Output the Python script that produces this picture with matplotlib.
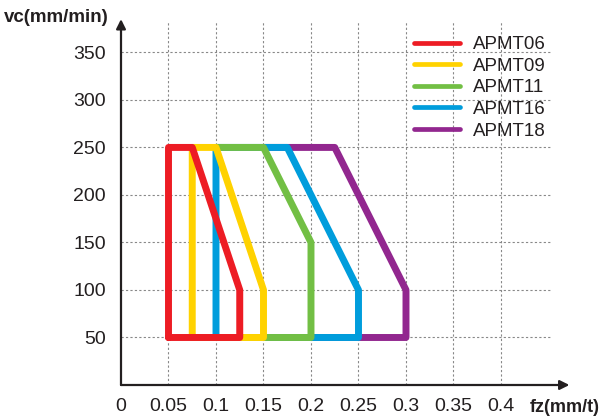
import matplotlib
matplotlib.use("Agg")
import matplotlib.pyplot as plt

plt.rcParams['font.family'] = ['Liberation Sans', 'DejaVu Sans']

# feed per tooth (mm/t) and cutting speed (m/min) outlines for each insert
names = ["APMT06", "APMT09", "APMT11", "APMT16", "APMT18"]
colors = ["#ED1C24", "#FFD200", "#72BF44", "#009DDC", "#92278F"]

fz_06 = [0.05, 0.05, 0.075, 0.125, 0.125, 0.05]
vc_06 = [50, 250, 250, 100, 50, 50]
fz_09 = [0.075, 0.075, 0.1, 0.15, 0.15, 0.075]
vc_09 = [50, 250, 250, 100, 50, 50]
fz_11 = [0.1, 0.15, 0.2, 0.2, 0.1]
vc_11 = [250, 250, 150, 50, 50]
fz_16 = [0.1, 0.1, 0.175, 0.25, 0.25, 0.1]
vc_16 = [50, 250, 250, 100, 50, 50]
fz_18 = [0.15, 0.225, 0.3, 0.3, 0.15]
vc_18 = [250, 250, 100, 50, 50]

x_ticks = [0.05, 0.1, 0.15, 0.2, 0.25, 0.3, 0.35, 0.4]
x_labels = ["0.05", "0.1", "0.15", "0.2", "0.25", "0.3", "0.35", "0.4"]
y_ticks = [50, 100, 150, 200, 250, 300, 350]

shapes = [(fz_06, vc_06), (fz_09, vc_09), (fz_11, vc_11), (fz_16, vc_16), (fz_18, vc_18)]

fig = plt.figure(figsize=(6.04, 4.19), dpi=100)
ax = fig.add_axes([121 / 604, 34 / 419, 431 / 604, 363 / 419])
ax.set_xlim(0, 0.4537)
ax.set_ylim(0, 382)

# draw back to front so red ends up on top
for i in reversed(range(len(shapes))):
    fz, vc = shapes[i]
    ax.plot(fz, vc, color=colors[i], lw=5, solid_joinstyle='round',
            solid_capstyle='round', zorder=3 + (len(shapes) - i))

handles = [plt.Line2D([], [], color=c, lw=3.4, solid_capstyle='round') for c in colors]
fig.legend(handles, names, loc='upper left', bbox_to_anchor=(414 / 604, 1 - 36 / 419),
           frameon=False, fontsize=13.5, handlelength=2.45, handletextpad=0.7,
           labelspacing=0.24, borderpad=0, borderaxespad=0, labelcolor='#231f20')

ax.set_xticks(x_ticks)
ax.set_xticklabels(x_labels)
ax.set_yticks(y_ticks)
ax.tick_params(length=0, labelsize=14, colors='#231f20')
ax.tick_params(axis='x', pad=9)
ax.tick_params(axis='y', pad=11)
ax.grid(True, ls=(0, (2, 2)), color='#888888', lw=0.8)

for s in ['top', 'right', 'left', 'bottom']:
    ax.spines[s].set_visible(False)

# axes with arrow heads
ax.annotate('', xy=(0.472, 0), xytext=(0, 0), xycoords='data',
            arrowprops=dict(arrowstyle='-|>', color='#231f20', lw=1.6,
                            mutation_scale=14, shrinkA=0, shrinkB=0),
            annotation_clip=False)
ax.annotate('', xy=(0, 385), xytext=(0, 0), xycoords='data',
            arrowprops=dict(arrowstyle='-|>', color='#231f20', lw=1.6,
                            mutation_scale=14, shrinkA=0, shrinkB=0),
            annotation_clip=False)

# "0" at the origin
ax.text(0, -23, "0", ha='center', va='center', fontsize=14, color='#231f20')

fig.text(4 / 604, 1 - 18 / 419, "vc(mm/min)", fontsize=13.5, fontweight='bold',
         ha='left', va='center', color='#231f20')
fig.text(600 / 604, 1 - 407 / 419, "fz(mm/t)", fontsize=13, fontweight='bold',
         ha='right', va='center', color='#231f20')

fig.savefig("out.png", dpi=100)
